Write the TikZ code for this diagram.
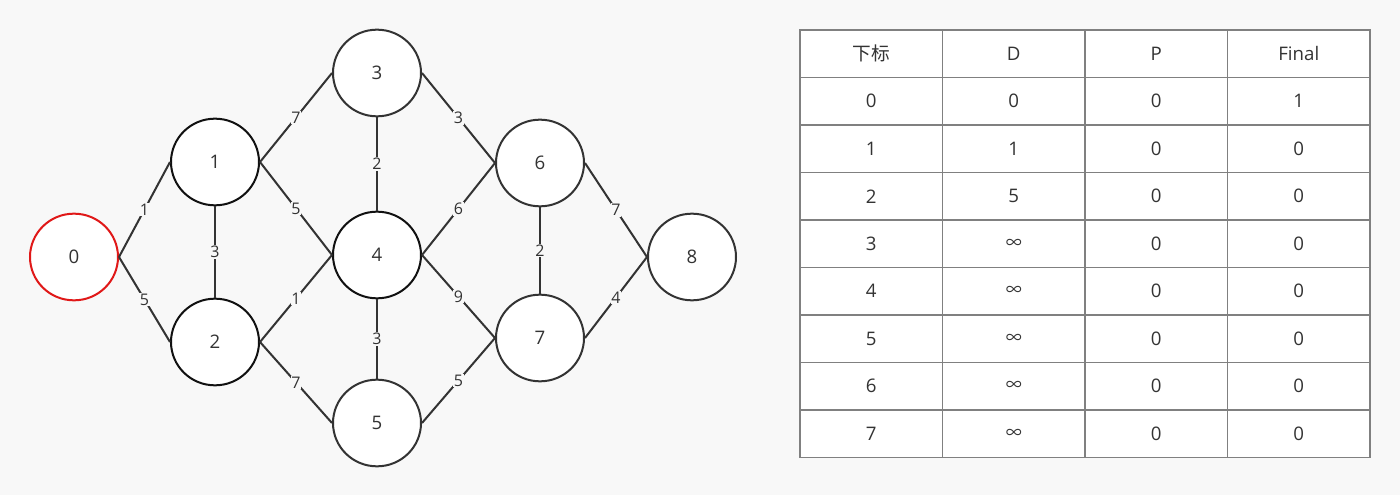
\documentclass[tikz,border=0pt]{standalone}
\usepackage{fontspec}
\setmainfont{Open Sans}
\newfontfamily\cjk{Noto Sans CJK SC}
\usetikzlibrary{shapes.geometric}
\definecolor{bg}{HTML}{F8F8F8}
\definecolor{ink}{HTML}{333333}
\definecolor{dark}{HTML}{111111}
\definecolor{gridc}{HTML}{808080}
\definecolor{redline}{HTML}{E01818}
\newcommand{\infsym}{{\cjk\fontsize{12}{14}\selectfont ∞}}
\begin{document}
\begin{tikzpicture}[x=0.75pt,y=-0.75pt,
  vnode/.style={ellipse, draw=ink, line width=1.5pt, fill=white,
    minimum width=66pt, minimum height=65pt, inner sep=0pt,
    font=\fontsize{14}{16}\selectfont, text=ink},
  strong/.style={draw=dark},
  start/.style={draw=redline},
  link/.style={draw=ink, line width=1.5pt},
  wlabel/.style={fill=bg, inner sep=0.6pt, font=\fontsize{12}{14}\selectfont, text=ink},
  cell/.style={draw=gridc, line width=0.8pt, fill=white, minimum width=106.875pt,
    minimum height=35.625pt, inner sep=0pt, font=\fontsize{14}{16}\selectfont, text=ink}]
\fill[bg] (0,0) rectangle (1400,495);
\useasboundingbox (0,0) rectangle (1400,495);
% graph nodes
\node[vnode,start]  (n0) at (74,257) {0};
\node[vnode,strong] (n1) at (215,162) {1};
\node[vnode,strong] (n2) at (215,342) {2};
\node[vnode]        (n3) at (377,73) {3};
\node[vnode,strong] (n4) at (377,255) {4};
\node[vnode]        (n5) at (377,423) {5};
\node[vnode]        (n6) at (540,163) {6};
\node[vnode]        (n7) at (540,338) {7};
\node[vnode]        (n8) at (692,257) {8};
% edges
\draw[link] (n0.east) -- node[wlabel]{1} (n1.west);
\draw[link] (n0.east) -- node[wlabel]{5} (n2.west);
\draw[link] (n1.south) -- node[wlabel]{3} (n2.north);
\draw[link] (n1.east) -- node[wlabel]{7} (n3.west);
\draw[link] (n1.east) -- node[wlabel]{5} (n4.west);
\draw[link] (n2.east) -- node[wlabel]{1} (n4.west);
\draw[link] (n2.east) -- node[wlabel]{7} (n5.west);
\draw[link] (n3.south) -- node[wlabel]{2} (n4.north);
\draw[link] (n4.south) -- node[wlabel]{3} (n5.north);
\draw[link] (n3.east) -- node[wlabel]{3} (n6.west);
\draw[link] (n4.east) -- node[wlabel]{6} (n6.west);
\draw[link] (n4.east) -- node[wlabel]{9} (n7.west);
\draw[link] (n5.east) -- node[wlabel]{5} (n7.west);
\draw[link] (n6.south) -- node[wlabel]{2} (n7.north);
\draw[link] (n6.east) -- node[wlabel]{7} (n8.west);
\draw[link] (n7.east) -- node[wlabel]{4} (n8.west);
% table
\foreach [count=\r from 0] \a/\b/\c/\d in {{\cjk 下标}/D/P/Final, 0/0/0/1, 1/1/0/0, 2/5/0/0, 3/\infsym/0/0, 4/\infsym/0/0, 5/\infsym/0/0, 6/\infsym/0/0, 7/\infsym/0/0} {
  \node[cell] (t\r a) at (871.25, {30+47.5*(\r+0.5)}) {\a};
  \node[cell] (t\r b) at (1013.75, {30+47.5*(\r+0.5)}) {\b};
  \node[cell] (t\r c) at (1156.25, {30+47.5*(\r+0.5)}) {\c};
  \node[cell] (t\r d) at (1298.75, {30+47.5*(\r+0.5)}) {\d};
}
\end{tikzpicture}
\end{document}
